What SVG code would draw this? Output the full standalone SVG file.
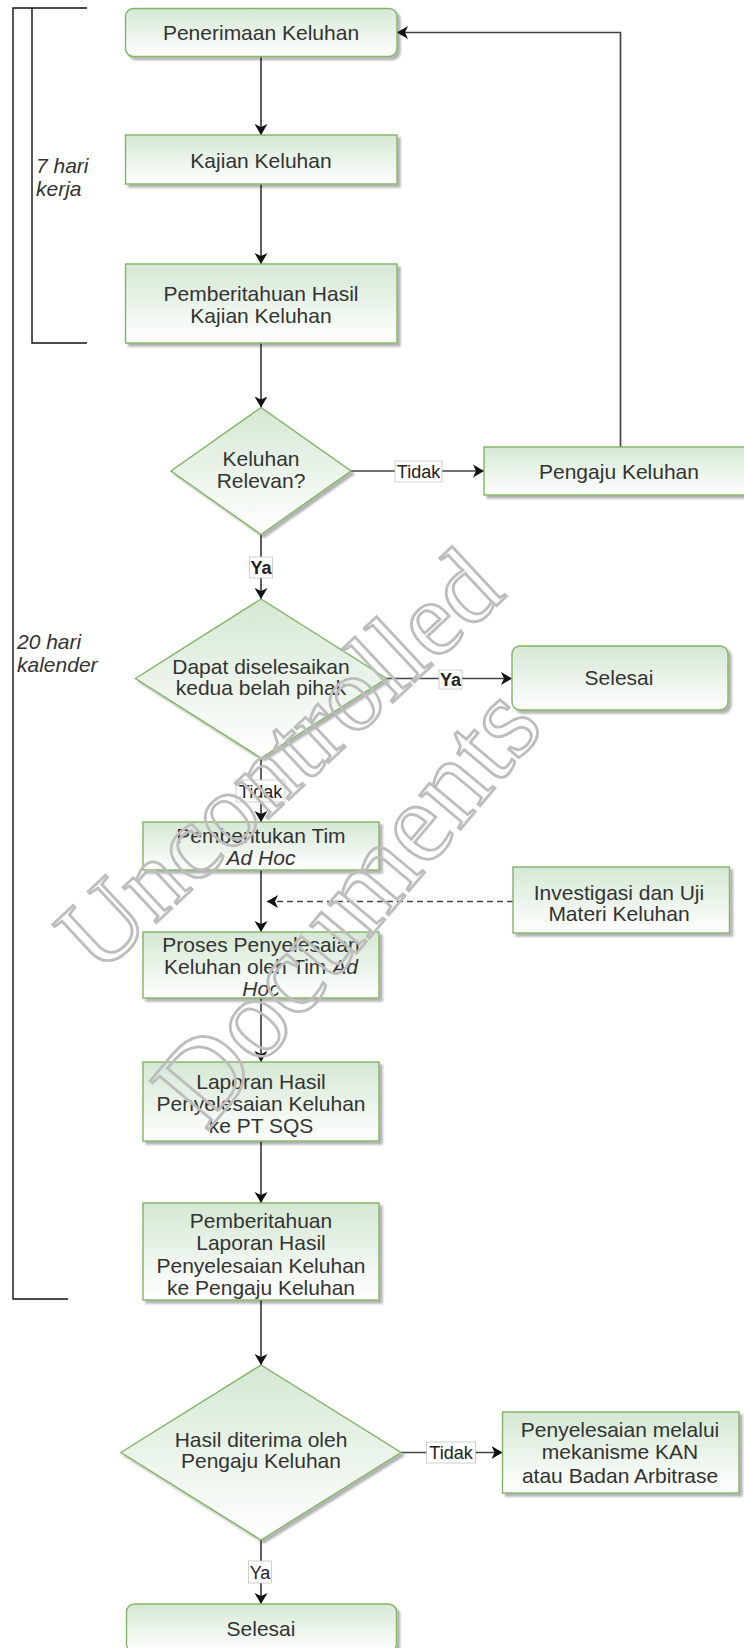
<svg xmlns="http://www.w3.org/2000/svg" width="744" height="1648" viewBox="0 0 744 1648">
<defs>
<linearGradient id="g" x1="0" y1="0" x2="0" y2="1">
<stop offset="0" stop-color="#d5e8d4"/>
<stop offset="1" stop-color="#ffffff"/>
</linearGradient>
<filter id="sh" x="-10%" y="-10%" width="130%" height="140%">
<feDropShadow dx="3" dy="3" stdDeviation="1.3" flood-color="#000" flood-opacity="0.3"/>
</filter>
<marker id="arr" markerUnits="userSpaceOnUse" markerWidth="12" markerHeight="14" viewBox="0 0 12 14" refX="11" refY="7" orient="auto">
<path d="M0,0.5 L11,7 L0,13.5 L3,7 Z" fill="#111"/>
</marker>
<style>
.n{fill:url(#g);stroke:#82b366;stroke-width:1.4;filter:url(#sh)}
.t{font-family:"Liberation Sans",Arial,Helvetica,sans-serif;font-size:21px;fill:#333;text-anchor:middle}
.it{font-style:italic}
.side{font-family:"Liberation Sans",Arial,Helvetica,sans-serif;font-size:21px;fill:#333;font-style:italic}
.e{stroke:#444;stroke-width:1.7;fill:none;marker-end:url(#arr)}
.d{stroke-dasharray:6 4}
.lb{fill:#fff;stroke:#c4c4c4;stroke-width:0.8}
.lt{font-family:"Liberation Sans",Arial,Helvetica,sans-serif;font-size:18px;fill:#222;text-anchor:middle}
.b{font-weight:bold}
.br{stroke:#111;stroke-width:1.4;fill:none}
.wm{font-family:"Liberation Serif","Times New Roman",serif;fill:none;stroke:#bdbdbd;stroke-width:2.8;text-anchor:middle}
</style>
</defs>

<g id="brackets">
<path class="br" d="M87,8 H13 V1299 H68"/>
<path class="br" d="M32,8 V343 H87"/>
<text class="side" x="36" y="173">7 hari</text>
<text class="side" x="36" y="195.5">kerja</text>
<text class="side" x="17" y="649">20 hari</text>
<text class="side" x="17" y="672">kalender</text>
</g>

<g id="connectors">
<path class="e" d="M261,57 V135"/>
<path class="e" d="M261,184 V264"/>
<path class="e" d="M261,343 V407.5"/>
<path class="e" d="M351,471 H484"/>
<path class="e" d="M620.5,447 V32.5 H397"/>
<path class="e" d="M261,534.5 V599"/>
<path class="e" d="M386.5,678.5 H512"/>
<path class="e" d="M261,758 V822"/>
<path class="e" d="M261,870 V932"/>
<path class="e d" d="M513,901.5 H267"/>
<path class="e" d="M261,998 V1062"/>
<path class="e" d="M261,1141 V1203"/>
<path class="e" d="M261,1300 V1365"/>
<path class="e" d="M401,1452.5 H502.5"/>
<path class="e" d="M261,1540 V1604"/>
<g id="edge-labels">
<rect class="lb" x="395" y="461" width="47" height="21"/>
<text class="lt" x="418.5" y="478">Tidak</text>
<rect class="lb" x="249.5" y="557" width="23" height="21"/>
<text class="lt b" x="261" y="574">Ya</text>
<rect class="lb" x="439" y="670" width="23" height="19"/>
<text class="lt b" x="450.5" y="685.5">Ya</text>
<rect class="lb" x="236" y="780" width="49" height="22"/>
<text class="lt" x="260.5" y="797.5">Tidak</text>
<rect class="lb" x="426.5" y="1442" width="49" height="21"/>
<text class="lt" x="451" y="1459">Tidak</text>
<rect class="lb" x="248.5" y="1561" width="23" height="22"/>
<text class="lt" x="260" y="1578.5">Ya</text>
</g>
</g>

<g id="penerimaan">
<rect class="n" x="125.5" y="8.5" width="271.5" height="48" rx="8"/>
<text class="t" x="261" y="40">Penerimaan Keluhan</text>
</g>
<g id="kajian">
<rect class="n" x="125.5" y="135" width="271.5" height="49"/>
<text class="t" x="261" y="168">Kajian Keluhan</text>
</g>
<g id="pemberitahuan-hasil">
<rect class="n" x="125.5" y="264" width="271.5" height="79"/>
<text class="t" x="261" y="300.5">Pemberitahuan Hasil</text>
<text class="t" x="261" y="322.5">Kajian Keluhan</text>
</g>
<g id="keluhan-relevan">
<path class="n" d="M261,407.5 L351,471 L261,534.5 L171,471 Z"/>
<text class="t" x="261" y="465.5">Keluhan</text>
<text class="t" x="261" y="487.5">Relevan?</text>
</g>
<g id="pengaju-keluhan">
<rect class="n" x="484" y="447" width="272" height="48"/>
<text class="t" x="619" y="478.5">Pengaju Keluhan</text>
</g>
<g id="dapat-diselesaikan">
<path class="n" d="M261,599 L386.5,678.5 L261,758 L135.5,678.5 Z"/>
<text class="t" x="261" y="673.5">Dapat diselesaikan</text>
<text class="t" x="261" y="694.5">kedua belah pihak</text>
</g>
<g id="selesai-1">
<rect class="n" x="512" y="646" width="216" height="64" rx="8"/>
<text class="t" x="619" y="684.5">Selesai</text>
</g>
<g id="pembentukan-tim">
<rect class="n" x="143" y="822" width="236" height="48"/>
<text class="t" x="261" y="842.5">Pembentukan Tim</text>
<text class="t it" x="261" y="864.5">Ad Hoc</text>
</g>
<g id="investigasi">
<rect class="n" x="513" y="867" width="216.5" height="66"/>
<text class="t" x="619" y="899.5">Investigasi dan Uji</text>
<text class="t" x="619" y="920.5">Materi Keluhan</text>
</g>
<g id="proses-penyelesaian">
<rect class="n" x="143" y="932" width="236" height="66"/>
<text class="t" x="261" y="951.5">Proses Penyelesaian</text>
<text class="t" x="261" y="973.5">Keluhan oleh Tim <tspan class="it">Ad</tspan></text>
<text class="t it" x="261" y="995.5">Hoc</text>
</g>
<g id="laporan-hasil">
<rect class="n" x="143" y="1062" width="236" height="79"/>
<text class="t" x="261" y="1089">Laporan Hasil</text>
<text class="t" x="261" y="1110.5">Penyelesaian Keluhan</text>
<text class="t" x="261" y="1132.5">ke PT SQS</text>
</g>
<g id="pemberitahuan-laporan">
<rect class="n" x="143" y="1203" width="236" height="97"/>
<text class="t" x="261" y="1227.5">Pemberitahuan</text>
<text class="t" x="261" y="1250">Laporan Hasil</text>
<text class="t" x="261" y="1272.5">Penyelesaian Keluhan</text>
<text class="t" x="261" y="1294.5">ke Pengaju Keluhan</text>
</g>
<g id="hasil-diterima">
<path class="n" d="M261,1365 L401,1452.5 L261,1540 L121,1452.5 Z"/>
<text class="t" x="261" y="1446.5">Hasil diterima oleh</text>
<text class="t" x="261" y="1468">Pengaju Keluhan</text>
</g>
<g id="penyelesaian-kan">
<rect class="n" x="502.5" y="1412" width="236.5" height="81"/>
<text class="t" x="620" y="1436.5">Penyelesaian melalui</text>
<text class="t" x="620" y="1459">mekanisme KAN</text>
<text class="t" x="620" y="1482.5">atau Badan Arbitrase</text>
</g>
<g id="selesai-2">
<rect class="n" x="126.5" y="1604" width="270" height="48" rx="8"/>
<text class="t" x="261" y="1635.5">Selesai</text>
</g>

<g id="watermark">
<text class="wm" font-size="106" transform="translate(303,786) rotate(-43)">Uncontrolled</text>
<text class="wm" font-size="116" transform="translate(376,930) rotate(-50)">Documents</text>
</g>
</svg>
